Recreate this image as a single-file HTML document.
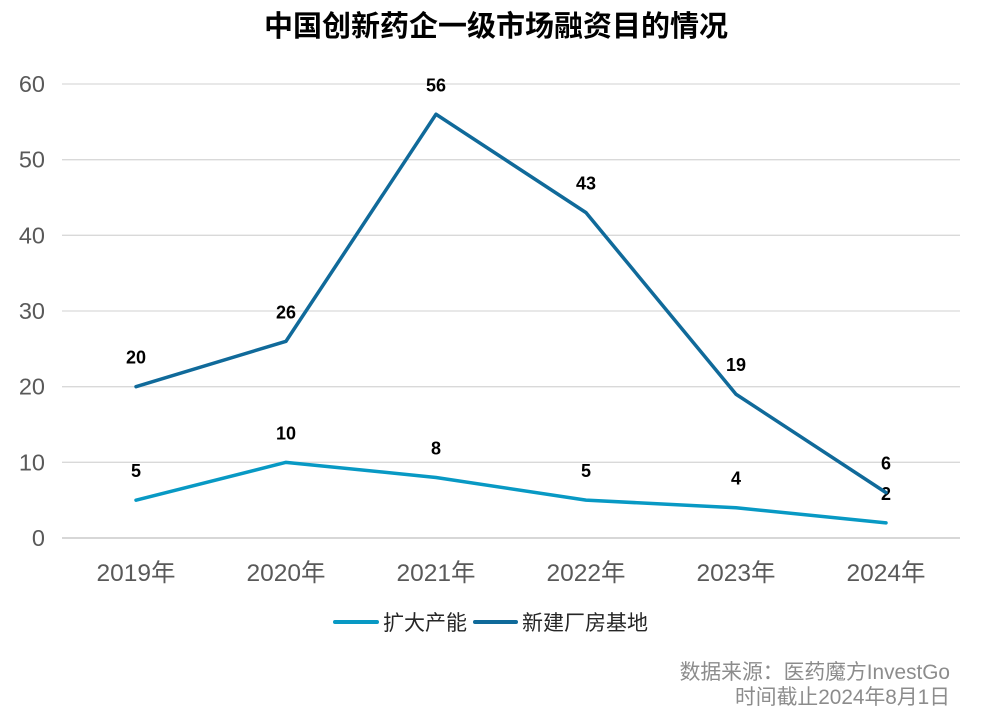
<!DOCTYPE html>
<html><head><meta charset="utf-8"><style>
body{margin:0;background:#fff;}
svg text{font-family:"Liberation Sans","Noto Sans CJK SC",sans-serif;}
</style></head><body>
<svg id="c" width="985" height="719">
<text x="496" y="36" text-anchor="middle" font-size="29" font-weight="bold" fill="#000">中国创新药企一级市场融资目的情况</text>
<g id="grid"></g><g id="series"></g>
<g>
<line x1="335" y1="622" x2="377" y2="622" stroke="#0899C4" stroke-width="4" stroke-linecap="round"/>
<text x="383" y="630" font-size="21" fill="#262626">扩大产能</text>
<line x1="475" y1="622" x2="516" y2="622" stroke="#106A9A" stroke-width="4" stroke-linecap="round"/>
<text x="522" y="630" font-size="21" fill="#262626">新建厂房基地</text>
</g>
<text x="950" y="679" text-anchor="end" font-size="20.8" fill="#8c8c8c">数据来源：医药魔方InvestGo</text>
<text x="950" y="704" text-anchor="end" font-size="20.8" fill="#8c8c8c">时间截止2024年8月1日</text>
</svg>
<script>
const categories=["2019年","2020年","2021年","2022年","2023年","2024年"];
const expandValues=[5,10,8,5,4,2];
const factoryValues=[20,26,56,43,19,6];
const yTicks=[0,10,20,30,40,50,60];
const NS="http://www.w3.org/2000/svg";
const x=i=>136+i*150;
const y=v=>538-v*(454/60);
function mk(t,a,p){const e=document.createElementNS(NS,t);for(const k in a)e.setAttribute(k,a[k]);p.appendChild(e);return e;}
const g=document.getElementById('grid'),s=document.getElementById('series');
yTicks.forEach(v=>{
 const l=mk('line',{x1:62,x2:960,y1:y(v),y2:y(v),stroke:v===0?'#bfbfbf':'#d9d9d9','stroke-width':1.3},g);
 
 
 const t=mk('text',{x:45,y:y(v)+8,'text-anchor':'end','font-size':23.5,fill:'#595959'},g);t.textContent=v;
 
 
});
categories.forEach((c,i)=>{
 const t=mk('text',{x:x(i),y:581,'text-anchor':'middle','font-size':24.5,fill:'#595959'},g);t.textContent=c;
 
 
});
function series(vals,col,name){
 const p=mk('polyline',{points:vals.map((v,i)=>x(i)+','+y(v)).join(' '),fill:'none',stroke:col,'stroke-width':3.5,'stroke-linejoin':'round','stroke-linecap':'round'},s);
 
 
 vals.forEach((v,i)=>{
  const t=mk('text',{x:x(i),y:y(v)-23,'text-anchor':'middle','font-size':18,'font-weight':'bold',fill:'#000'},s);t.textContent=v;
  
  
 });
}
series(expandValues,'#0899C4','expand-capacity');
series(factoryValues,'#106A9A','new-factory');
</script>
</body></html>
